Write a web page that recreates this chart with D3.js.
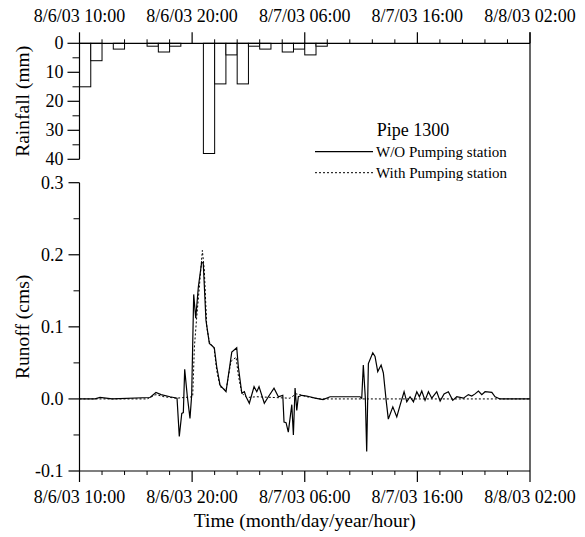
<!DOCTYPE html>
<html>
<head>
<meta charset="utf-8">
<script src="https://cdn.jsdelivr.net/npm/d3@7"></script>
<style>
  html, body { margin: 0; padding: 0; background: #fff; }
  svg { display: block; }
  text { font-family: "Liberation Serif", "Times New Roman", serif; fill: #000; }
</style>
</head>
<body>
<svg id="chart" width="585" height="537"></svg>
<script>
// ---------------- DATA ----------------
// hours after 8/6/03 10:00
const timeTickLabels = ["8/6/03 10:00", "8/6/03 20:00", "8/7/03 06:00", "8/7/03 16:00", "8/8/03 02:00"];
const timeTickHours = [0, 10, 20, 30, 40];
const timeMinorHours = [2, 4, 6, 8, 12, 14, 16, 18, 22, 24, 26, 28, 32, 34, 36, 38];

// hourly rainfall (mm), starting at 10:00
const rainHours = [0, 1, 2, 3, 4, 5, 6, 7, 8, 9, 10, 11, 12, 13, 14, 15, 16, 17, 18, 19, 20, 21];
const rainValues = [15, 6, 0, 2, 0, 0, 1, 3, 1, 0, 0, 38, 14, 4, 14, 1, 2, 0, 3, 2, 4, 1];
const rainTicks = [0, 10, 20, 30, 40];
const rainMinor = [5, 15, 25, 35];

const runoffTicks = [0.3, 0.2, 0.1, 0.0, -0.1];
const runoffTickLabels = ["0.3", "0.2", "0.1", "0.0", "-0.1"];
const runoffMinor = [0.25, 0.15, 0.05, -0.05];

// W/O Pumping station
const woHours = [0, 1.38, 1.82, 2.35, 2.89, 6.26, 6.79, 7.24, 8.04, 8.66, 8.86, 9.08, 9.22, 9.34, 9.57, 9.81, 9.96,
  10.14, 10.32, 10.55, 10.85, 10.99, 11.23, 11.53, 11.97, 12.18, 12.48, 13.01, 13.52, 13.96, 14.10, 14.41, 14.64,
  14.79, 15.08, 15.50, 15.74, 15.94, 16.41, 16.77, 17.27, 17.66, 18.05, 18.16, 18.34, 18.54, 18.85, 18.99, 19.14,
  19.29, 19.43, 19.73, 20.18, 20.91, 21.63, 22.25, 24.91, 25.06, 25.20, 25.38, 25.50, 25.65, 26.04, 26.24, 26.48,
  26.78, 26.98, 27.22, 27.42, 27.82, 28.17, 28.46, 28.82, 29.06, 29.35, 29.65, 29.95, 30.18, 30.39, 30.68, 30.98,
  31.28, 31.72, 32.02, 32.37, 32.75, 33.14, 33.50, 34.09, 34.53, 34.83, 35.12, 35.42, 35.72, 36.01, 36.61, 36.90,
  37.19, 37.34, 40];
const woValues = [0, 0, 0.002, 0.001, 0, 0.002, 0.009, 0.006, 0.003, 0.001, -0.052, -0.02, -0.019, 0.041, 0.004, -0.027, 0.005,
  0.145, 0.112, 0.155, 0.19, 0.188, 0.109, 0.077, 0.071, 0.045, 0.019, 0.01, 0.065, 0.071, 0.045, 0.008, 0.01,
  0.003, -0.006, 0.017, 0.01, 0.017, -0.006, 0.003, 0.015, 0.003, 0.005, -0.032, -0.033, -0.046, -0.008, -0.05, 0.015,
  -0.016, 0.003, 0.005, 0.004, 0.001, -0.001, 0.003, 0.003, 0.001, 0.047, 0.001, -0.073, 0.049, 0.064, 0.059, 0.038,
  0.047, 0.036, -0.001, -0.028, -0.011, -0.025, -0.009, 0.01, -0.004, 0.003, -0.004, 0.01, 0.003, 0.011, -0.002, 0.01,
  0.001, 0.01, -0.003, 0.007, 0.01, -0.002, 0.003, 0.001, 0.006, 0.004, 0.007, 0.011, 0.006, 0.01, 0.009, 0.003,
  0.001, 0, 0];

// With Pumping station
const withHours = [0, 6.0, 6.79, 7.5, 8.6, 10.05, 10.20, 10.41, 10.64, 10.91, 11.08, 11.30, 11.53, 11.95, 12.18, 12.48,
  13.01, 13.45, 13.90, 14.10, 14.41, 14.85, 15.74, 18.69, 19.23, 19.58, 20.20, 21.36, 37.34, 40];
const withValues = [0, 0, 0.006, 0.003, 0.001, 0.003, 0.072, 0.114, 0.155, 0.206, 0.179, 0.10, 0.079, 0.07, 0.04, 0.017,
  0.012, 0.052, 0.058, 0.033, 0.008, 0.002, 0.003, 0.001, 0.007, 0.006, 0.003, 0, 0, 0];

// ---------------- DRAW ----------------
const svg = d3.select("#chart");
const x = d3.scaleLinear().domain([0, 40]).range([79.5, 530]);
const yRain = d3.scaleLinear().domain([0, 40]).range([43.3, 159.3]);
const yRun = d3.scaleLinear().domain([-0.1, 0.3]).range([471, 182.7]);

const tickFont = 18;

// rainfall bars
svg.append("g").selectAll("rect")
  .data(rainHours.map((h, i) => ({ h, v: rainValues[i] })).filter(d => d.v > 0))
  .join("rect")
  .attr("x", d => x(d.h))
  .attr("width", d => x(d.h + 1) - x(d.h))
  .attr("y", yRain(0))
  .attr("height", d => yRain(d.v) - yRain(0))
  .attr("fill", "#fff")
  .attr("stroke", "#000")
  .attr("stroke-width", 1);

// top axis (time), ticks upward
const topAxis = svg.append("g").attr("transform", `translate(0,${yRain(0)})`);
topAxis.append("line").attr("x1", x(0)).attr("x2", x(40)).attr("stroke", "#000").attr("stroke-width", 1.2);
topAxis.selectAll("line.maj").data(timeTickHours).join("line").attr("class", "maj")
  .attr("x1", d => x(d)).attr("x2", d => x(d)).attr("y1", 0).attr("y2", -11).attr("stroke", "#000").attr("stroke-width", 1.2);
topAxis.selectAll("line.min").data(timeMinorHours).join("line").attr("class", "min")
  .attr("x1", d => x(d)).attr("x2", d => x(d)).attr("y1", 0).attr("y2", -4).attr("stroke", "#000");
topAxis.selectAll("text").data(timeTickHours).join("text")
  .attr("x", d => x(d)).attr("y", -21.5).attr("text-anchor", "middle").attr("font-size", tickFont)
  .text((d, i) => timeTickLabels[i]);

// bottom axis (time), ticks downward
const botAxis = svg.append("g").attr("transform", `translate(0,${yRun(-0.1)})`);
botAxis.append("line").attr("x1", x(0)).attr("x2", x(40)).attr("stroke", "#000").attr("stroke-width", 1.2);
botAxis.selectAll("line.maj").data(timeTickHours).join("line").attr("class", "maj")
  .attr("x1", d => x(d)).attr("x2", d => x(d)).attr("y1", 0).attr("y2", 11).attr("stroke", "#000").attr("stroke-width", 1.2);
botAxis.selectAll("line.min").data(timeMinorHours).join("line").attr("class", "min")
  .attr("x1", d => x(d)).attr("x2", d => x(d)).attr("y1", 0).attr("y2", 4).attr("stroke", "#000");
botAxis.selectAll("text").data(timeTickHours).join("text")
  .attr("x", d => x(d)).attr("y", 32).attr("text-anchor", "middle").attr("font-size", tickFont)
  .text((d, i) => timeTickLabels[i]);

// right border
svg.append("line").attr("x1", x(40)).attr("x2", x(40)).attr("y1", yRain(0) - 11).attr("y2", yRun(-0.1))
  .attr("stroke", "#000").attr("stroke-width", 1.2);

// rainfall left axis
const rainAxis = svg.append("g").attr("transform", `translate(${x(0)},0)`);
rainAxis.append("line").attr("y1", yRain(0)).attr("y2", yRain(40)).attr("stroke", "#000").attr("stroke-width", 1.2);
rainAxis.selectAll("line.maj").data(rainTicks).join("line").attr("class", "maj")
  .attr("x1", 0).attr("x2", -12).attr("y1", d => yRain(d)).attr("y2", d => yRain(d)).attr("stroke", "#000").attr("stroke-width", 1.2);
rainAxis.selectAll("line.min").data(rainMinor).join("line").attr("class", "min")
  .attr("x1", 0).attr("x2", -7).attr("y1", d => yRain(d)).attr("y2", d => yRain(d)).attr("stroke", "#000");
rainAxis.selectAll("text").data(rainTicks).join("text")
  .attr("x", -16).attr("y", d => yRain(d) + 6).attr("text-anchor", "end").attr("font-size", tickFont)
  .text(d => d);

// runoff left axis
const runAxis = svg.append("g").attr("transform", `translate(${x(0)},0)`);
runAxis.append("line").attr("y1", yRun(0.3)).attr("y2", yRun(-0.1)).attr("stroke", "#000").attr("stroke-width", 1.2);
runAxis.selectAll("line.maj").data(runoffTicks).join("line").attr("class", "maj")
  .attr("x1", 0).attr("x2", -11).attr("y1", d => yRun(d)).attr("y2", d => yRun(d)).attr("stroke", "#000").attr("stroke-width", 1.2);
runAxis.selectAll("line.min").data(runoffMinor).join("line").attr("class", "min")
  .attr("x1", 0).attr("x2", -6).attr("y1", d => yRun(d)).attr("y2", d => yRun(d)).attr("stroke", "#000");
runAxis.selectAll("text").data(runoffTicks).join("text")
  .attr("x", -16).attr("y", d => yRun(d) + 6).attr("text-anchor", "end").attr("font-size", tickFont)
  .text((d, i) => runoffTickLabels[i]);

// runoff lines
const line = d3.line().x(d => x(d[0])).y(d => yRun(d[1]));
svg.append("path").datum(withHours.map((h, i) => [h, withValues[i]]))
  .attr("d", line).attr("fill", "none").attr("stroke", "#000").attr("stroke-width", 1)
  .attr("stroke-dasharray", "2,2");
svg.append("path").datum(woHours.map((h, i) => [h, woValues[i]]))
  .attr("d", line).attr("fill", "none").attr("stroke", "#000").attr("stroke-width", 1.2);

// axis titles
svg.append("text").attr("transform", `translate(29,${(yRain(0) + yRain(40)) / 2}) rotate(-90)`)
  .attr("text-anchor", "middle").attr("font-size", 19.5).text("Rainfall (mm)");
svg.append("text").attr("transform", `translate(29,${(yRun(0.3) + yRun(-0.1)) / 2}) rotate(-90)`)
  .attr("text-anchor", "middle").attr("font-size", 19.5).text("Runoff (cms)");
svg.append("text").attr("x", (x(0) + x(40)) / 2).attr("y", 527).attr("text-anchor", "middle")
  .attr("font-size", 19.5).text("Time (month/day/year/hour)");

// legend
const lg = svg.append("g");
lg.append("text").attr("x", 376.7).attr("y", 136).attr("font-size", 18).text("Pipe 1300");
lg.append("line").attr("x1", 315).attr("x2", 373).attr("y1", 151.7).attr("y2", 151.7).attr("stroke", "#000").attr("stroke-width", 1.2);
lg.append("text").attr("x", 376).attr("y", 157).attr("font-size", 15).text("W/O Pumping station");
lg.append("line").attr("x1", 315).attr("x2", 373).attr("y1", 172.7).attr("y2", 172.7).attr("stroke", "#000").attr("stroke-width", 1)
  .attr("stroke-dasharray", "2,2");
lg.append("text").attr("x", 376).attr("y", 178).attr("font-size", 15).text("With Pumping station");
</script>
</body>
</html>
